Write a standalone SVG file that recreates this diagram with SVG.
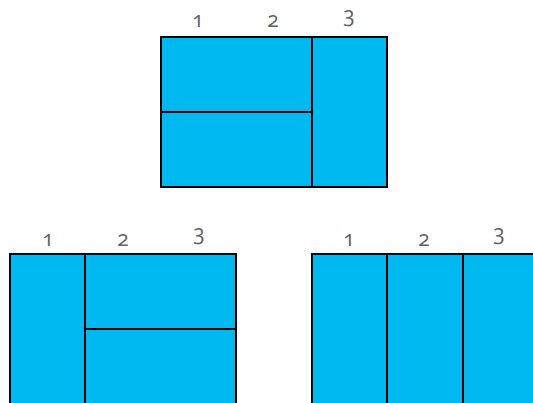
<svg xmlns="http://www.w3.org/2000/svg" width="533" height="403" viewBox="0 0 533 403">
<style>
.box{fill:#00B9F1;stroke:#000;stroke-width:2}
.ln{stroke:#000;stroke-width:2;fill:none}
.lbl{font-family:"Open Sans","DejaVu Serif",serif;font-size:21px;fill:#5f5f5f;text-anchor:middle;font-variant-numeric:oldstyle-nums}
</style>
<g id="layout-top">
<rect class="box" x="161" y="37" width="226" height="150"/>
<line class="ln" x1="312" y1="37" x2="312" y2="187"/>
<line class="ln" x1="161" y1="112" x2="312" y2="112"/>
<text class="lbl" x="198" y="27">1</text>
<text class="lbl" x="273" y="27">2</text>
<text class="lbl" x="349" y="22">3</text>
</g>
<g id="layout-left">
<rect class="box" x="10" y="254" width="226" height="160"/>
<line class="ln" x1="85" y1="254" x2="85" y2="403"/>
<line class="ln" x1="85" y1="329" x2="236" y2="329"/>
<text class="lbl" x="48" y="246">1</text>
<text class="lbl" x="123" y="246">2</text>
<text class="lbl" x="199" y="240">3</text>
</g>
<g id="layout-right">
<rect class="box" x="312" y="254" width="226" height="160"/>
<line class="ln" x1="387" y1="254" x2="387" y2="403"/>
<line class="ln" x1="463" y1="254" x2="463" y2="403"/>
<text class="lbl" x="349" y="246">1</text>
<text class="lbl" x="424" y="246">2</text>
<text class="lbl" x="499" y="240">3</text>
</g>
<g id="connectors"/>
</svg>
